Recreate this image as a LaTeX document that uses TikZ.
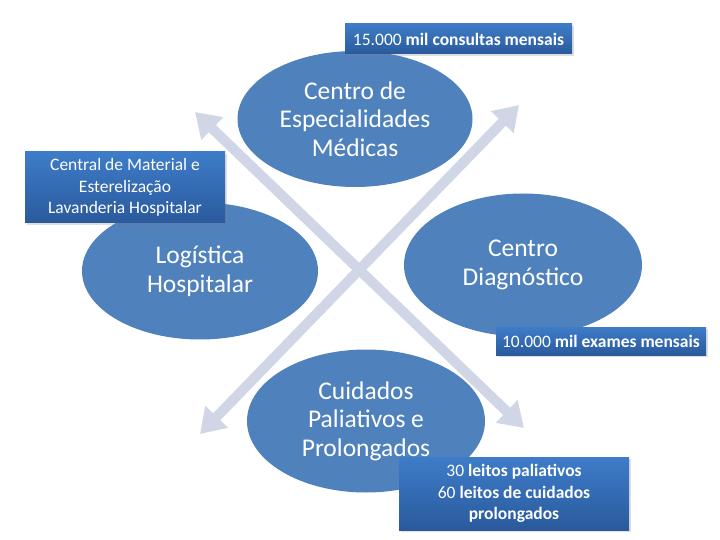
\documentclass[tikz,border=0pt]{standalone}
\usepackage{fontspec}
\setmainfont{Carlito}
\usetikzlibrary{arrows.meta,shapes.geometric,shadows}
\definecolor{ovalblue}{RGB}{79,129,189}
\definecolor{crossgray}{RGB}{208,214,230}
\definecolor{tagtop}{RGB}{62,124,201}
\definecolor{tagbot}{RGB}{42,90,156}

\begin{document}
\begin{tikzpicture}[x=1pt,y=-1pt,
  oval/.style={ellipse,fill=ovalblue,text=white,inner sep=0pt,align=center,
    font=\fontsize{25.5}{28.5}\selectfont},
  tag/.style={rectangle,top color=tagtop,bottom color=tagbot,text=white,inner sep=0pt,
    align=center,font=\fontsize{17.5}{21.5}\selectfont,
    drop shadow={shadow xshift=2pt,shadow yshift=-2pt,opacity=0.25}},
  cross/.style={crossgray,line width=10pt,
    {Triangle[width=30pt,length=24pt]}-{Triangle[width=30pt,length=24pt]}}]
\fill[white] (0,0) rectangle (720,540);
\useasboundingbox (0,0) rectangle (720,540);

% tips of the two arrows
\coordinate (ul) at (195,112);
\coordinate (lr) at (524,428);
\coordinate (ur) at (519,105);
\coordinate (ll) at (200,434);
\draw[cross] (lr) -- (ul);
\draw[cross] (ur) -- (ll);

% the four areas
\node[oval,minimum width=235pt,minimum height=136pt] (espec) at (355,119)
  {Centro de\\Especialidades\\Médicas};
\node[oval,minimum width=236pt,minimum height=137pt] (logist) at (200,271)
  {Logística\\Hospitalar};
\node[oval,minimum width=238pt,minimum height=143pt] (diag) at (523,265)
  {Centro\\Diagnóstico};
\node[oval,minimum width=238pt,minimum height=143pt] (cuid) at (366,421)
  {Cuidados\\Paliativos e\\Prolongados};

% labels
\node[tag,minimum width=227pt,minimum height=30pt] (consultas) at (458.5,39)
  {15.000 \textbf{mil consultas mensais}};
\node[tag,minimum width=200pt,minimum height=71pt] (material) at (125,187.5)
  {Central de Material e\\Esterelização\\Lavanderia Hospitalar};
\node[tag,minimum width=210pt,minimum height=28pt] (exames) at (601,341)
  {10.000 \textbf{mil exames mensais}};
\node[tag,minimum width=230pt,minimum height=73pt] (leitos) at (514,493.5)
  {30 \textbf{leitos paliativos}\\60 \textbf{leitos de cuidados}\\\textbf{prolongados}};
\end{tikzpicture}
\end{document}
